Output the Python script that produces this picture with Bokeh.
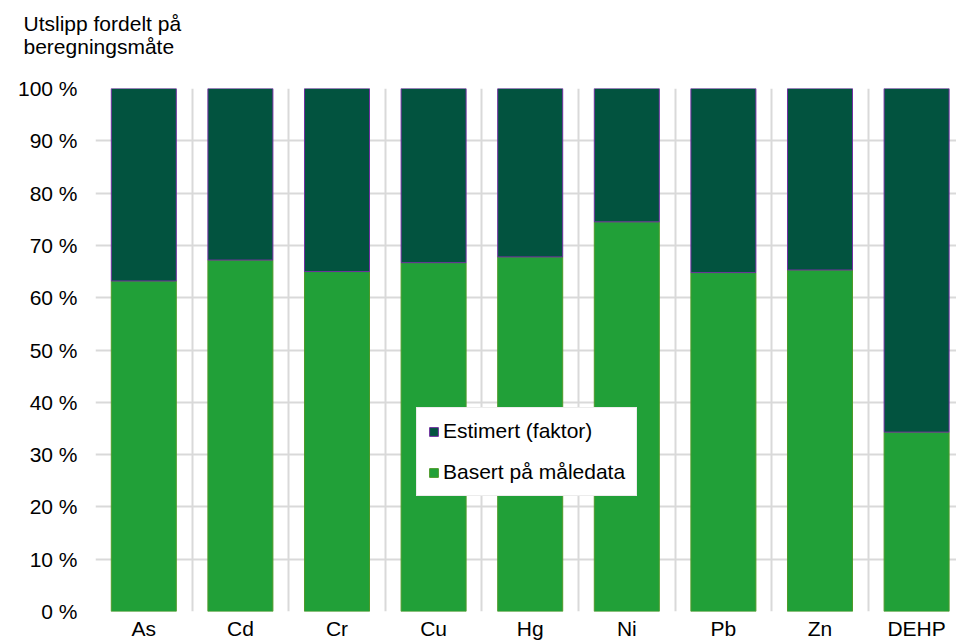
from bokeh.plotting import figure
from bokeh.models import ColumnDataSource, Range1d, FixedTicker, Legend, LegendItem, Title, PrintfTickFormatter
from bokeh.embed import file_html
from bokeh.resources import INLINE

categories = ["As", "Cd", "Cr", "Cu", "Hg", "Ni", "Pb", "Zn", "DEHP"]
basert = [63.2, 67.2, 65.0, 66.7, 67.8, 74.5, 64.8, 65.3, 34.3]
estimert = [round(100 - b, 1) for b in basert]
y_ticks = [0, 10, 20, 30, 40, 50, 60, 70, 80, 90, 100]
series_names = ["Basert på måledata", "Estimert (faktor)"]
title_lines = ["Utslipp fordelt på", "beregningsmåte"]

FONT = "Liberation Sans"
FS = "21px"
GREEN = "#21A038"
DARK = "#02533F"
GREEN_LINE = "#4E9A2A"
PURPLE = "#7030A0"
GRID = "#D9D9D9"

xs = list(range(len(categories)))
source = ColumnDataSource(dict(x=xs, basert=basert, estimert=estimert))

cat_px = 96.6
frame_w = 956 - 95
p = figure(width=956, height=642, output_backend="svg", toolbar_location=None,
           x_range=Range1d(-0.5, -0.5 + frame_w / cat_px), y_range=Range1d(0, 100),
           min_border_left=95, min_border_right=0, min_border_top=88, min_border_bottom=29)
p.outline_line_color = None
p.background_fill_color = "white"
p.border_fill_color = "white"

rs = p.vbar_stack(["basert", "estimert"], x="x", width=0.673, source=source,
                  fill_color=[GREEN, DARK], line_color=[GREEN_LINE, PURPLE], line_width=1)

# axes
p.xaxis.ticker = FixedTicker(ticks=xs)
p.xaxis.major_label_overrides = {i: c for i, c in enumerate(categories)}
p.yaxis.ticker = FixedTicker(ticks=y_ticks)
p.yaxis.formatter = PrintfTickFormatter(format="%d %%")
for ax in (p.xaxis[0], p.yaxis[0]):
    ax.axis_line_color = None
    ax.major_tick_line_color = None
    ax.minor_tick_line_color = None
    ax.major_tick_out = 0
    ax.major_tick_in = 0
    ax.major_label_text_font = FONT
    ax.major_label_text_font_size = FS
    ax.major_label_text_color = "black"
p.xaxis.major_label_standoff = 5
p.yaxis.major_label_standoff = 18

# grids
p.xgrid.ticker = FixedTicker(ticks=[i - 0.5 for i in range(len(categories) + 1)])
p.ygrid.ticker = FixedTicker(ticks=y_ticks)
for g in (p.xgrid[0], p.ygrid[0]):
    g.grid_line_color = GRID
    g.grid_line_width = 2

# legend
legend = Legend(items=[LegendItem(label=series_names[1], renderers=[rs[1]]),
                       LegendItem(label=series_names[0], renderers=[rs[0]])],
                location=(321, 115), orientation="vertical",
                glyph_width=11, glyph_height=11, label_standoff=4,
                padding=11, spacing=17, margin=0,
                label_text_font=FONT, label_text_font_size=FS, label_text_color="black",
                border_line_color=GRID, border_line_width=1.5,
                background_fill_color="white", background_fill_alpha=1)
p.add_layout(legend)

# spacer between frame and title, then the two-line title
p.add_layout(Title(text=" ", standoff=27, text_font_size="1px", text_color="white"), "above")
p.add_layout(Title(text="\n".join(title_lines), align="left", offset=23 - 95, standoff=0,
                   text_line_height=1.04,
                   text_font=FONT, text_font_size=FS, text_font_style="normal",
                   text_color="black"), "above")

open("out.html", "w").write(file_html(p, INLINE))
